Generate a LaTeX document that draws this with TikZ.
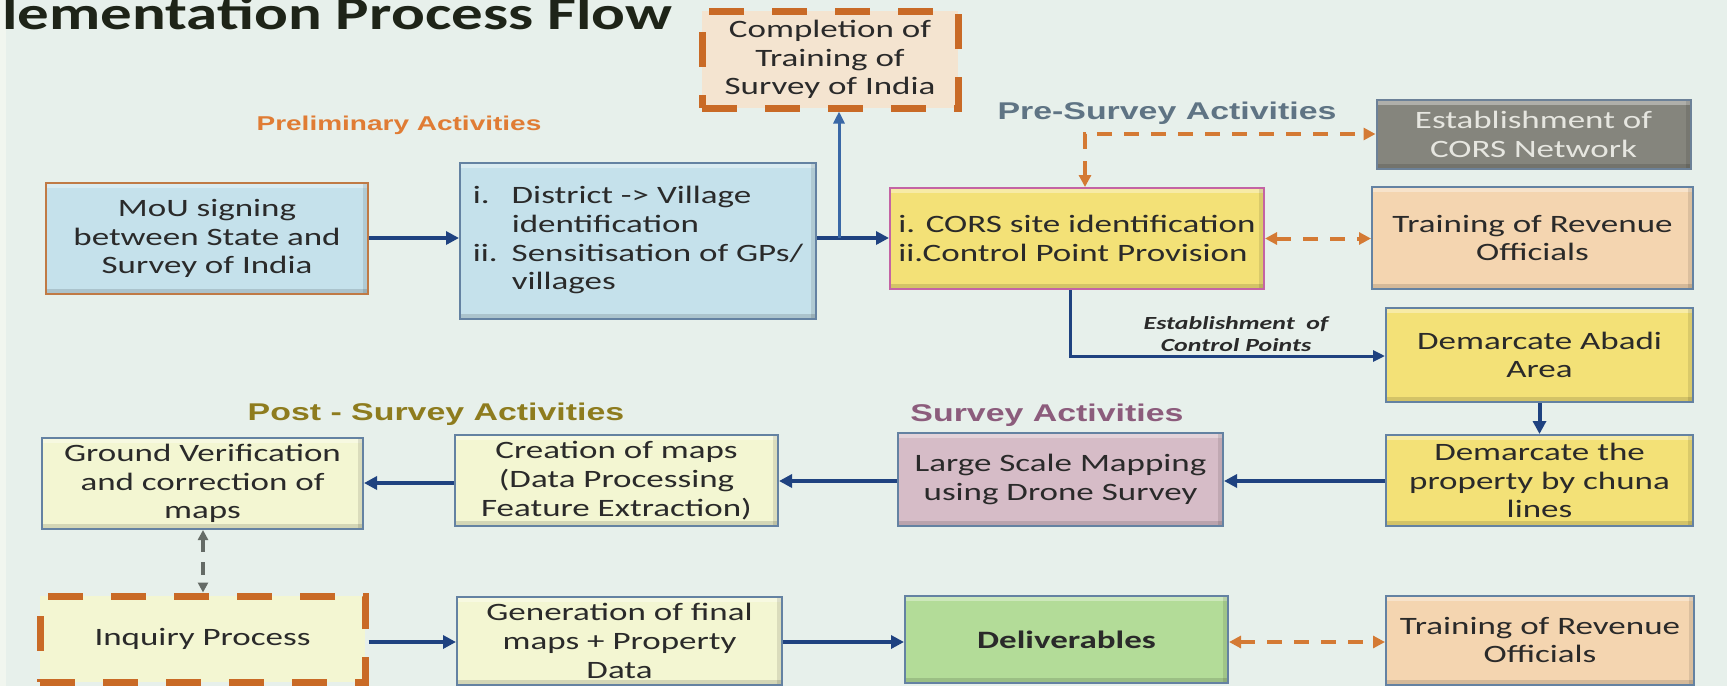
\documentclass[tikz,border=0pt]{standalone}
\usepackage{fontspec}
\setmainfont{Carlito}[FakeStretch=1.4]
\newfontfamily\titfont{Carlito}[FakeStretch=1.34]
\newfontfamily\labfont{Liberation Sans}[FakeStretch=1.4]
\usetikzlibrary{arrows.meta}
\definecolor{bg}{HTML}{E7F0EB}
\definecolor{bgl}{HTML}{F1F6EF}
\definecolor{txt}{HTML}{2A2A2A}
\definecolor{ttl}{HTML}{1E2418}
\definecolor{lblue}{HTML}{C5E1EB}
\definecolor{mouedge}{HTML}{C07A45}
\definecolor{edge}{HTML}{6482A2}
\definecolor{dorange}{HTML}{C96A26}
\definecolor{peach}{HTML}{F4E4D0}
\definecolor{gbox}{HTML}{85857D}
\definecolor{gtext}{HTML}{E6E6E0}
\definecolor{yel}{HTML}{F3E177}
\definecolor{pinkedge}{HTML}{C464A4}
\definecolor{tpeach}{HTML}{F4D5B0}
\definecolor{mauve}{HTML}{D6BCC7}
\definecolor{lyel}{HTML}{F3F6D2}
\definecolor{green}{HTML}{B3DC98}
\definecolor{arrblue}{HTML}{1F4280}
\definecolor{arrlblue}{HTML}{3A68A6}
\definecolor{arrorange}{HTML}{D47A34}
\definecolor{arrgray}{HTML}{656B66}
\definecolor{cprelim}{HTML}{E07C34}
\definecolor{cpre}{HTML}{5F7484}
\definecolor{csurvey}{HTML}{8C5C7C}
\definecolor{cpost}{HTML}{8E7C1E}
\newcommand{\bodyf}{\fontsize{25}{28.7}\selectfont}
\tikzset{
  bevel/.style={path picture={
     \fill[white,opacity=0.35] (path picture bounding box.north west) rectangle ([yshift=-5pt]path picture bounding box.north east);
     \fill[black,opacity=0.13] (path picture bounding box.south west) rectangle ([yshift=5pt]path picture bounding box.south east);
     \fill[black,opacity=0.10] (path picture bounding box.south east) rectangle ([xshift=-5pt]path picture bounding box.north east);}},
  box/.style={draw=edge, line width=2pt, inner sep=0pt, align=center, font=\bodyf, text=txt, bevel},
  dbox/.style={draw=dorange, line width=7pt, dash pattern=on 35pt off 28pt, inner sep=0pt, align=center, font=\bodyf, text=txt},
  lab/.style={font=\labfont\bfseries\fontsize{20}{24}\selectfont},
  labbig/.style={font=\labfont\bfseries\fontsize{24.2}{28}\selectfont},
  barrow/.style={draw=arrblue, line width=4pt, -{Triangle[length=13pt,width=13pt]}},
  oarrow/.style={draw=arrorange, line width=4pt, dash pattern=on 15pt off 12pt, {Triangle[length=12pt,width=12pt]}-{Triangle[length=12pt,width=12pt]}},
  garrow/.style={draw=arrgray, line width=3.5pt, dash pattern=on 13pt off 10pt, {Triangle[length=10pt,width=10pt]}-{Triangle[length=10pt,width=10pt]}}
}
\begin{document}
\begin{tikzpicture}[x=1pt,y=-1pt]
\useasboundingbox (0,0) rectangle (1727,686);
\fill[bg] (0,0) rectangle (1727,686);
\fill[bgl] (0,0) rectangle (6,686);
% title
\node[anchor=base west, inner sep=0pt, font=\titfont\bfseries\fontsize{47}{52}\selectfont, text=ttl] (title) at (2,29) {lementation Process Flow};
% section labels
\node[lab, text=cprelim] (lprelim) at (399,125) {Preliminary Activities};
\node[labbig, text=cpre] (lpre) at (1167,113) {Pre-Survey Activities};
\node[labbig, text=csurvey] (lsurvey) at (1047,415) {Survey Activities};
\node[labbig, text=cpost] (lpost) at (436,414) {Post - Survey Activities};
% boxes
\node[box, fill=lblue, draw=mouedge, minimum width=322pt, minimum height=111pt] (mou) at (207,238.5) {MoU signing\\between State and\\Survey of India};
\node[box, fill=lblue, minimum width=356pt, minimum height=156pt] (dist) at (638,241)
 {\begin{tabular}{@{}l@{\hspace{14pt}}l@{}}i. & District -> Village\\ & identification\\ ii. & Sensitisation of GPs/\\ & villages\end{tabular}};
\node[dbox, fill=peach, minimum width=256pt, minimum height=97pt] (compl) at (830,59.5) {Completion of\\Training of\\Survey of India};
\node[box, fill=gbox, text=gtext, draw=edge!70!gray, minimum width=314pt, minimum height=69pt] (estab) at (1533.5,134.5) {Establishment of\\CORS Network};
\node[box, fill=yel, draw=pinkedge, minimum width=374pt, minimum height=101pt, align=left] (cors) at (1077,238.5) {i. CORS site identification\\ii.Control Point Provision};
\node[box, fill=tpeach, minimum width=321pt, minimum height=102pt] (train1) at (1532.5,238) {Training of Revenue\\Officials};
\node[box, fill=yel, minimum width=307pt, minimum height=94pt] (abadi) at (1539.5,355) {Demarcate Abadi\\Area};
\node[box, fill=yel, minimum width=307pt, minimum height=91pt] (prop) at (1539.5,480.5) {Demarcate the\\property by chuna\\lines};
\node[box, fill=mauve, minimum width=325pt, minimum height=93pt] (large) at (1060.5,479.5) {Large Scale Mapping\\using Drone Survey};
\node[box, fill=lyel, minimum width=323pt, minimum height=91pt] (creat) at (616.5,480.5) {Creation of maps\\(Data Processing\\Feature Extraction)};
\node[box, fill=lyel, minimum width=321pt, minimum height=91pt] (ground) at (202.5,483.5) {Ground Verification\\and correction of\\maps};
\node[dbox, fill=lyel, minimum width=325pt, minimum height=86pt] (inq) at (202.5,639) {Inquiry Process};
\node[box, fill=lyel, minimum width=325pt, minimum height=88pt] (gen) at (619.5,641) {Generation of final\\maps + Property\\Data};
\node[box, fill=green, minimum width=323pt, minimum height=87pt, font=\bodyf\bfseries] (deliv) at (1066.5,639.5) {Deliverables};
\node[box, fill=tpeach, minimum width=308pt, minimum height=89pt] (train2) at (1540,640) {Training of Revenue\\Officials};
% connectors
\coordinate (dj) at (839,238);
\coordinate (c1) at (1085,134);
\coordinate (c2) at (1070,356);
\coordinate (g1) at (203,0);
\draw[barrow] (mou.east |- 0,238) -- (dist.west |- 0,238);
\draw[barrow] (dist.east |- 0,238) -- (cors.west |- 0,238);
\draw[draw=arrlblue, line width=3pt, -{Triangle[length=12pt,width=11pt]}] (dj) -- (dj |- compl.south);
\draw[oarrow] (c1 |- cors.north) -- (c1) -- (estab.west |- c1);
\draw[oarrow] (cors.east) -- (train1.west |- cors.east);
\draw[draw=arrblue, line width=3pt, -{Triangle[length=12pt,width=11pt]}] (c2 |- cors.south) -- (c2) -- (abadi.west |- c2);
\node[font=\bfseries\itshape\fontsize{18.5}{22}\selectfont, text=txt, align=center] (estlab) at (1236,334) {Establishment~ of\\Control Points};
\draw[barrow] (abadi.south) -- (prop.north);
\draw[barrow] (prop.west |- 0,481) -- (large.east |- 0,481);
\draw[barrow] (large.west |- 0,481) -- (creat.east |- 0,481);
\draw[barrow] (creat.west |- 0,483) -- (ground.east |- 0,483);
\draw[garrow] (g1 |- ground.south) -- (g1 |- inq.north);
\draw[barrow] (inq.east |- 0,642) -- (gen.west |- 0,642);
\draw[barrow] (gen.east |- 0,642) -- (deliv.west |- 0,642);
\draw[oarrow] (deliv.east |- 0,642) -- (train2.west |- 0,642);
\end{tikzpicture}
\end{document}
